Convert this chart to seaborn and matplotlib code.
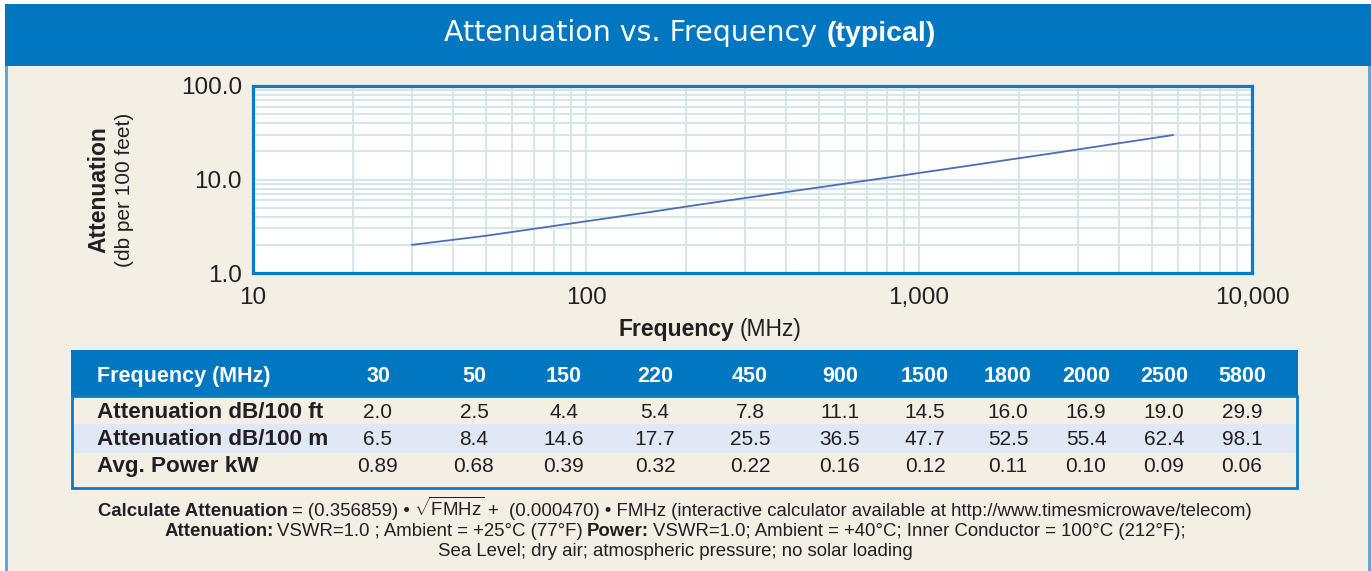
import numpy as np
import pandas as pd
import matplotlib
matplotlib.use("Agg")
import matplotlib.pyplot as plt
import seaborn as sns
from matplotlib.patches import Rectangle
from matplotlib.ticker import FixedLocator, FixedFormatter, LogLocator, NullFormatter

# ---------------- data ----------------
freq_mhz = [30, 50, 150, 220, 450, 900, 1500, 1800, 2000, 2500, 5800]
atten_db_100ft = [2.0, 2.5, 4.4, 5.4, 7.8, 11.1, 14.5, 16.0, 16.9, 19.0, 29.9]
atten_db_100m = [6.5, 8.4, 14.6, 17.7, 25.5, 36.5, 47.7, 52.5, 55.4, 62.4, 98.1]
avg_power_kw = [0.89, 0.68, 0.39, 0.32, 0.22, 0.16, 0.12, 0.11, 0.10, 0.09, 0.06]

x_ticks = [10, 100, 1000, 10000]
x_tick_labels = ["10", "100", "1,000", "10,000"]
y_ticks = [1, 10, 100]
y_tick_labels = ["1.0", "10.0", "100.0"]

header_label = "Frequency (MHz)"
row_labels = ["Attenuation dB/100 ft", "Attenuation dB/100 m", "Avg. Power kW"]
row_formats = ["{:.1f}", "{:.1f}", "{:.2f}"]

# ---------------- style ----------------
sns.set_style("white")
plt.rcParams["font.family"] = ["Liberation Sans", "DejaVu Sans"]
plt.rcParams["mathtext.fontset"] = "custom"
plt.rcParams["mathtext.rm"] = "Liberation Sans"
plt.rcParams["mathtext.it"] = "Liberation Sans:italic"
plt.rcParams["mathtext.bf"] = "Liberation Sans:bold"

BLUE = "#0077C0"
FRAME = "#0A7ACB"
CREAM = "#F3EFE5"
ROWBLUE = "#E1E8F5"
BORDER = "#5DA9DD"
GRID = "#D3E6E7"
LINE = "#4A6EB4"
TXT = "#231F20"

W, H = 1371, 571
fig = plt.figure(figsize=(W / 100, H / 100), dpi=100)
fig.patch.set_facecolor("white")

bg = fig.add_axes([0, 0, 1, 1])
bg.set_xlim(0, W)
bg.set_ylim(H, 0)
bg.axis("off")

# panel background, header band and side borders
bg.add_patch(Rectangle((5, 66), W - 5, H - 66, facecolor=CREAM, edgecolor="none"))
bg.add_patch(Rectangle((5, 4), W - 5, 62, facecolor=BLUE, edgecolor="none"))
bg.add_patch(Rectangle((5, 66), 2.5, H - 66, facecolor=BORDER, edgecolor="none"))
bg.add_patch(Rectangle((1368, 66), 2.5, H - 66, facecolor=BORDER, edgecolor="none"))

renderer = fig.canvas.get_renderer()


def rich(parts, cx, y, gap):
    """parts: list of (string, kwargs). Lays them out centred on cx."""
    items = []
    for s, kw in parts:
        t = bg.text(0, y, s, ha="left", va="baseline", **kw)
        items.append((t, t.get_window_extent(renderer).width))
    total = sum(w for _, w in items) + gap * (len(items) - 1)
    x = cx - total / 2
    for t, w in items:
        t.set_x(x)
        x += w + gap


# title
rich([("Attenuation vs. Frequency", dict(fontsize=20.5, color="white",
                                          family=["DejaVu Sans"])),
      ("(typical)", dict(fontsize=20.5, color="white", fontweight="bold"))],
     690, 41, 9)

# ---------------- chart ----------------
ax = fig.add_axes([253 / W, 1 - 273 / H, (1252 - 253) / W, (273 - 86) / H])
ax.set_facecolor("white")
df = pd.DataFrame({"freq": freq_mhz, "att": atten_db_100ft})
sns.lineplot(data=df, x="freq", y="att", ax=ax, color=LINE, linewidth=1.3)
ax.set_xscale("log")
ax.set_yscale("log")
ax.set_xlim(x_ticks[0], x_ticks[-1])
ax.set_ylim(y_ticks[0], y_ticks[-1])
ax.xaxis.set_major_locator(FixedLocator(x_ticks))
ax.xaxis.set_major_formatter(FixedFormatter(x_tick_labels))
ax.yaxis.set_major_locator(FixedLocator(y_ticks))
ax.yaxis.set_major_formatter(FixedFormatter(y_tick_labels))
ax.xaxis.set_minor_locator(LogLocator(base=10, subs=np.arange(2, 10)))
ax.yaxis.set_minor_locator(LogLocator(base=10, subs=np.arange(2, 10)))
ax.xaxis.set_minor_formatter(NullFormatter())
ax.yaxis.set_minor_formatter(NullFormatter())
ax.grid(which="both", color=GRID, linewidth=1.4)
ax.set_axisbelow(True)
ax.tick_params(which="both", length=0, labelsize=17.5, labelcolor=TXT)
ax.tick_params(axis="y", pad=8)
ax.tick_params(axis="x", pad=10)
ax.set_xlabel("")
ax.set_ylabel("")
for sp in ax.spines.values():
    sp.set_visible(True)
    sp.set_color(FRAME)
    sp.set_linewidth(2.3)

# axis titles
bg.text(99, 190, "Attenuation", rotation=90, ha="center", va="center",
        fontsize=16.5, fontweight="bold", color=TXT)
bg.text(124, 190, "(db per 100 feet)", rotation=90, ha="center", va="center",
        fontsize=15, color=TXT)
rich([("Frequency", dict(fontsize=16.5, fontweight="bold", color=TXT)),
      ("(MHz)", dict(fontsize=16.5, color=TXT))], 710, 336, 6)

# ---------------- table ----------------
tx0, tx1 = 71, 1298
bg.add_patch(Rectangle((tx0, 350), tx1 - tx0, 46, facecolor=BLUE, edgecolor="none"))
bg.add_patch(Rectangle((tx0 + 2, 424), tx1 - tx0 - 4, 29, facecolor=ROWBLUE,
                       edgecolor="none"))
bg.add_patch(Rectangle((tx0 + 1, 396), tx1 - tx0 - 2, 92, facecolor="none",
                       edgecolor=FRAME, linewidth=2))

col_x = [378, 474, 564, 655, 750, 840, 925, 1008, 1086, 1164, 1242]
label_x = 97
header_y = 382
row_y = [418, 445, 472]

bg.text(label_x, header_y, header_label, ha="left", va="baseline",
        fontsize=15.5, fontweight="bold", color="white")
for xc, f in zip(col_x, freq_mhz):
    bg.text(xc, header_y, str(f), ha="center", va="baseline", fontsize=15.5,
            fontweight="bold", color="white")

rows = [atten_db_100ft, atten_db_100m, avg_power_kw]
for yy, lab, vals, fmt in zip(row_y, row_labels, rows, row_formats):
    bg.text(label_x, yy, lab, ha="left", va="baseline", fontsize=16.2,
            fontweight="bold", color=TXT)
    for xc, v in zip(col_x, vals):
        bg.text(xc, yy, fmt.format(v), ha="center", va="baseline",
                fontsize=15, color=TXT)

# ---------------- footnotes ----------------
fn = 13.4
nrm = dict(fontsize=fn, color=TXT)
bld = dict(fontsize=fn, color=TXT, fontweight="bold")
rich([("Calculate Attenuation", bld),
      ("= (0.356859) •", nrm),
      (r"$\sqrt{\mathrm{FMHz}}$", nrm),
      ("+  (0.000470) • FMHz (interactive calculator available at "
       "http://www.timesmicrowave/telecom)", nrm)], 675, 516, 4)
rich([("Attenuation:", bld),
      ("VSWR=1.0 ; Ambient = +25°C (77°F)", nrm),
      ("Power:", bld),
      ("VSWR=1.0; Ambient = +40°C; Inner Conductor = 100°C (212°F);", nrm)],
     675, 536, 4)
rich([("Sea Level; dry air; atmospheric pressure; no solar loading", nrm)],
     675, 556, 0)

fig.savefig("out.png", dpi=100, facecolor=fig.get_facecolor())
